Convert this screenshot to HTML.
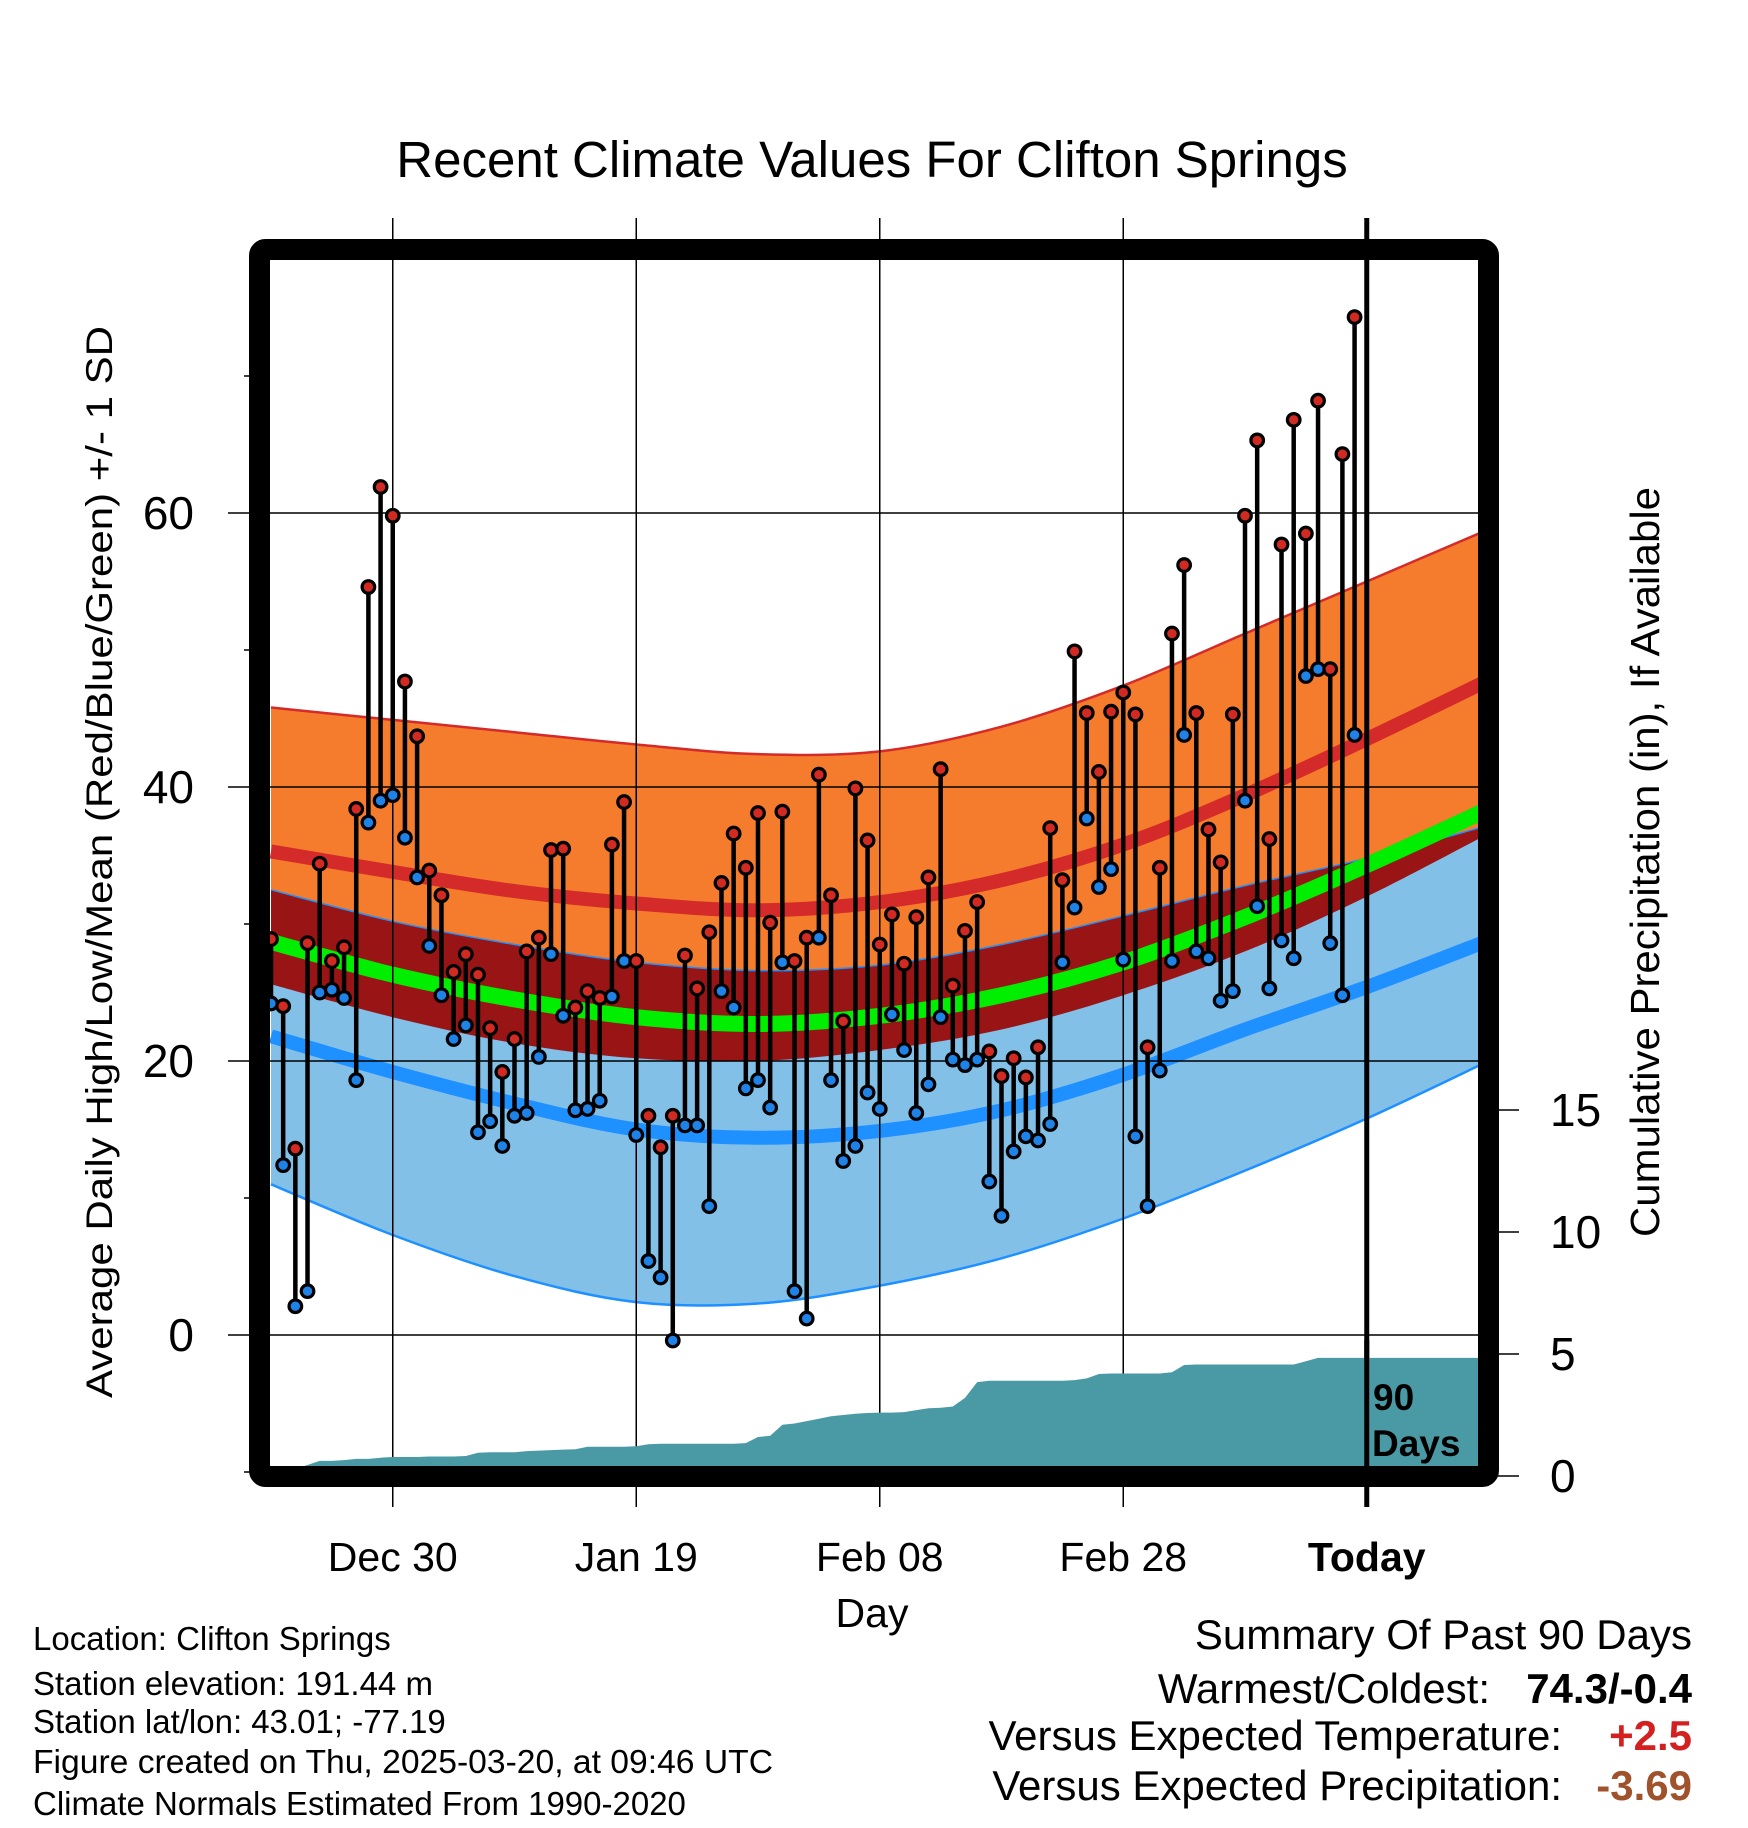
<!DOCTYPE html>
<html><head><meta charset="utf-8"><style>
html,body{margin:0;padding:0;background:#fff;}
svg{display:block;font-family:"Liberation Sans",Arial,sans-serif;}
</style></head><body>
<svg id="chart" width="1748" height="1828" viewBox="0 0 1748 1828" xmlns="http://www.w3.org/2000/svg">
<defs><clipPath id="plotclip"><rect x="270" y="260" width="1208" height="1206"/></clipPath></defs>
<rect x="0" y="0" width="1748" height="1828" fill="#fff"/>
<text x="872" y="177" font-size="51" text-anchor="middle">Recent Climate Values For Clifton Springs</text>
<g id="bands" clip-path="url(#plotclip)"></g>
<g id="grid"></g>
<g id="precip" clip-path="url(#plotclip)"></g>
<g id="marks"></g>
<g id="axes"></g>
<rect x="259.5" y="249.5" width="1229" height="1227" fill="none" stroke="#000" stroke-width="21" rx="6"/>
<text x="1373" y="1410" font-size="37" font-weight="bold">90</text>
<text x="1372" y="1456" font-size="37" font-weight="bold">Days</text>
<text transform="translate(112,862) rotate(-90)" font-size="37" text-anchor="middle" textLength="1072" lengthAdjust="spacingAndGlyphs">Average Daily High/Low/Mean (Red/Blue/Green) +/- 1 SD</text>
<text transform="translate(1659,862) rotate(-90)" font-size="41" text-anchor="middle" textLength="750" lengthAdjust="spacingAndGlyphs">Cumulative Precipitation (in), If Available</text>
<text x="872" y="1627" font-size="41" text-anchor="middle">Day</text>
<g font-size="33">
<text x="33" y="1650">Location: Clifton Springs</text>
<text x="33" y="1695">Station elevation: 191.44 m</text>
<text x="33" y="1733">Station lat/lon: 43.01; -77.19</text>
<text x="33" y="1773" textLength="740" lengthAdjust="spacingAndGlyphs">Figure created on Thu, 2025-03-20, at 09:46 UTC</text>
<text x="33" y="1815">Climate Normals Estimated From 1990-2020</text>
</g>
<g font-size="42">
<text x="1692" y="1649" text-anchor="end">Summary Of Past 90 Days</text>
<text x="1490" y="1703" text-anchor="end">Warmest/Coldest:</text>
<text x="1692" y="1703" text-anchor="end" font-weight="bold">74.3/-0.4</text>
<text x="1562" y="1750" text-anchor="end">Versus Expected Temperature:</text>
<text x="1692" y="1750" text-anchor="end" font-weight="bold" fill="#d32020">+2.5</text>
<text x="1562" y="1800" text-anchor="end">Versus Expected Precipitation:</text>
<text x="1692" y="1800" text-anchor="end" font-weight="bold" fill="#a0522d">-3.69</text>
</g>
</svg>
<script>
// ---- data ----
const highs = [28.9,24.0,13.6,28.6,34.4,27.3,28.3,38.4,54.6,61.9,59.8,47.7,43.7,33.9,32.1,26.5,27.8,26.3,22.4,19.2,21.6,28.0,29.0,35.4,35.5,23.9,25.1,24.6,35.8,38.9,27.3,16.0,13.7,16.0,27.7,25.3,29.4,33.0,36.6,34.1,38.1,30.1,38.2,27.3,29.0,40.9,32.1,22.9,39.9,36.1,28.5,30.7,27.1,30.5,33.4,41.3,25.5,29.5,31.6,20.7,18.9,20.2,18.8,21.0,37.0,33.2,49.9,45.4,41.1,45.5,46.9,45.3,21.0,34.1,51.2,56.2,45.4,36.9,34.5,45.3,59.8,65.3,36.2,57.7,66.8,58.5,68.2,48.6,64.3,74.3];
const lows = [24.2,12.4,2.1,3.2,25.0,25.2,24.6,18.6,37.4,39.0,39.4,36.3,33.4,28.4,24.8,21.6,22.6,14.8,15.6,13.8,16.0,16.2,20.3,27.8,23.3,16.4,16.5,17.1,24.7,27.3,14.6,5.4,4.2,-0.4,15.3,15.3,9.4,25.1,23.9,18.0,18.6,16.6,27.2,3.2,1.2,29.0,18.6,12.7,13.8,17.7,16.5,23.4,20.8,16.2,18.3,23.2,20.1,19.7,20.1,11.2,8.7,13.4,14.5,14.2,15.4,27.2,31.2,37.7,32.7,34.0,27.4,14.5,9.4,19.3,27.3,43.8,28.0,27.5,24.4,25.1,39.0,31.3,25.3,28.8,27.5,48.1,48.6,28.6,24.8,43.8];
const precip = [0.05,0.15,0.3,0.45,0.62,0.62,0.65,0.7,0.7,0.75,0.78,0.78,0.78,0.8,0.8,0.8,0.82,0.95,0.97,0.97,0.97,1.02,1.04,1.06,1.08,1.1,1.2,1.2,1.2,1.2,1.22,1.3,1.32,1.32,1.32,1.32,1.32,1.32,1.32,1.35,1.6,1.65,2.1,2.15,2.25,2.35,2.45,2.5,2.55,2.58,2.6,2.6,2.62,2.7,2.78,2.8,2.85,3.2,3.85,3.9,3.9,3.9,3.9,3.9,3.9,3.9,3.93,4.0,4.18,4.2,4.2,4.2,4.2,4.2,4.25,4.55,4.57,4.57,4.57,4.57,4.57,4.57,4.57,4.57,4.57,4.7,4.84,4.84,4.84,4.84];
// normals sampled every 10 days from day 0 (Dec 20)
const normDays = [0,10,20,30,40,50,60,70,80,90,100];
const highTop = [45.8,44.9,44.0,43.1,42.4,42.6,44.4,47.4,51.2,55.0,58.8];
const normHigh = [35.3,33.8,32.4,31.5,31.0,31.6,33.2,35.8,39.4,43.5,47.8];
const lowTop = [32.5,30.2,28.5,27.2,26.6,27.0,28.5,30.6,32.8,34.8,37.2];
const normMean = [28.7,26.3,24.5,23.2,22.7,23.3,24.8,27.2,30.5,34.3,38.4];
const highBot = [25.6,23.2,21.3,20.2,20.0,20.8,22.3,24.8,28.0,32.0,36.6];
const normLow = [21.8,19.2,16.9,15.0,14.4,14.9,16.4,19.0,22.3,25.4,28.8];
const lowBot = [11.0,7.3,4.3,2.4,2.3,3.6,5.6,8.5,12.0,15.8,20.0];
const xTickLabels = ["Dec 30","Jan 19","Feb 08","Feb 28","Today"];
const xTickDays = [10,30,50,70,90];
const yTickLabels = ["0","20","40","60"];
const yTickValues = [0,20,40,60];
const y2TickLabels = ["0","5","10","15"];
const y2TickValues = [0,5,10,15];

// ---- scales ----
const NS = "http://www.w3.org/2000/svg";
const X = d => 271 + d * 12.175;
const Y = t => 1335 - t * 13.7;
const YP = p => 1476 - p * 24.4;

function el(tag, attrs, parent) {
  const e = document.createElementNS(NS, tag);
  for (const k in attrs) e.setAttribute(k, attrs[k]);
  parent.appendChild(e);
  return e;
}
function smoothPts(days, vals) {
  return days.map((d, i) => [X(d), Y(vals[i])]);
}
function crPath(pts, move) {
  let s = (move ? "M" : "L") + pts[0][0].toFixed(1) + "," + pts[0][1].toFixed(1);
  for (let i = 0; i < pts.length - 1; i++) {
    const p0 = pts[i - 1] || pts[i], p1 = pts[i], p2 = pts[i + 1], p3 = pts[i + 2] || p2;
    const c1 = [p1[0] + (p2[0] - p0[0]) / 6, p1[1] + (p2[1] - p0[1]) / 6];
    const c2 = [p2[0] - (p3[0] - p1[0]) / 6, p2[1] - (p3[1] - p1[1]) / 6];
    s += "C" + c1.map(v => v.toFixed(1)).join(",") + " " + c2.map(v => v.toFixed(1)).join(",") + " " + p2[0].toFixed(1) + "," + p2[1].toFixed(1);
  }
  return s;
}
function bandPath(top, bot) {
  const t = smoothPts(normDays, top), b = smoothPts(normDays, bot).reverse();
  return crPath(t, true) + crPath(b, false) + "Z";
}

// ---- bands ----
const bands = document.getElementById("bands");
let e;
e = el("path", {d: bandPath(highTop, highBot), fill: "#f47c2c", stroke: "none"}, bands);


e = el("path", {d: bandPath(lowTop, lowBot), fill: "#82c0e8", stroke: "none"}, bands);


e = el("path", {d: bandPath(lowTop, highBot), fill: "#991515", stroke: "none"}, bands);


e = el("path", {d: crPath(smoothPts(normDays, highTop), true), fill: "none", stroke: "#d42a2a", "stroke-width": 2.5}, bands);


e = el("path", {d: crPath(smoothPts(normDays, lowTop), true), fill: "none", stroke: "#1e90ff", "stroke-width": 1.5}, bands);


e = el("path", {d: crPath(smoothPts(normDays, lowBot), true), fill: "none", stroke: "#1e90ff", "stroke-width": 2.5}, bands);


e = el("path", {d: crPath(smoothPts(normDays, normHigh), true), fill: "none", stroke: "#d42a2a", "stroke-width": 14}, bands);


e = el("path", {d: crPath(smoothPts(normDays, normMean), true), fill: "none", stroke: "#00ee00", "stroke-width": 16}, bands);


e = el("path", {d: crPath(smoothPts(normDays, normLow), true), fill: "none", stroke: "#1e90ff", "stroke-width": 14}, bands);



// ---- grid ----
const grid = document.getElementById("grid");
yTickValues.forEach(v => {
  const g = el("line", {x1: 270, x2: 1478, y1: Y(v), y2: Y(v), stroke: "#000", "stroke-width": 1.5}, grid);
  
  
});
xTickDays.forEach((d, i) => {
  const g = el("line", {x1: X(d), x2: X(d), y1: 218, y2: 1507, stroke: "#000", "stroke-width": i === 4 ? 5 : 1.5}, grid);
  
  
});

// ---- precip ----
const pg = document.getElementById("precip");
let pd = "M270," + YP(0);
precip.forEach((p, i) => { pd += "L" + X(i).toFixed(1) + "," + YP(p).toFixed(1); });
pd += "L1478," + YP(precip[precip.length - 1]).toFixed(1) + "L1478," + YP(0) + "Z";
e = el("path", {d: pd, fill: "#4a9aa5"}, pg);


const tl = el("line", {x1: X(90), x2: X(90), y1: 1340, y2: 1480, stroke: "#000", "stroke-width": 5}, pg);



// ---- marks ----
const mg = document.getElementById("marks");
highs.forEach((h, i) => {
  const s = el("line", {x1: X(i), x2: X(i), y1: Y(h), y2: Y(lows[i]), stroke: "#000", "stroke-width": 4.5}, mg);
  
  
});
highs.forEach((h, i) => {
  const a = el("circle", {cx: X(i), cy: Y(h), r: 6.3, fill: "#d02a22", stroke: "#000", "stroke-width": 3.2}, mg);
  
  
  const b = el("circle", {cx: X(i), cy: Y(lows[i]), r: 6.3, fill: "#1e82e6", stroke: "#000", "stroke-width": 3.2}, mg);
  
  
});

// ---- axes ----
const ax = document.getElementById("axes");
for (let v = -10; v <= 70; v += 10) {
  const major = v % 20 === 0 && v >= 0;
  const t = el("line", {x1: major ? 228 : 244, x2: 250, y1: Y(v), y2: Y(v), stroke: "#000", "stroke-width": 1.5}, ax);
  
  
}
yTickValues.forEach((v, i) => {
  const t = el("text", {x: 194, y: Y(v) + 16, "font-size": 46, "text-anchor": "end"}, ax);
  t.textContent = yTickLabels[i];
  
  
});
y2TickValues.forEach((v, i) => {
  const k = el("line", {x1: 1498, x2: 1519, y1: YP(v), y2: YP(v), stroke: "#000", "stroke-width": 1.5}, ax);
  
  
  const t = el("text", {x: 1550, y: YP(v) + 16, "font-size": 46}, ax);
  t.textContent = y2TickLabels[i];
  
  
});
xTickDays.forEach((d, i) => {
  const t = el("text", {x: X(d), y: 1571, "font-size": 41, "text-anchor": "middle"}, ax);
  if (i === 4) t.setAttribute("font-weight", "bold");
  t.textContent = xTickLabels[i];
  
  
});
</script>
</body></html>
